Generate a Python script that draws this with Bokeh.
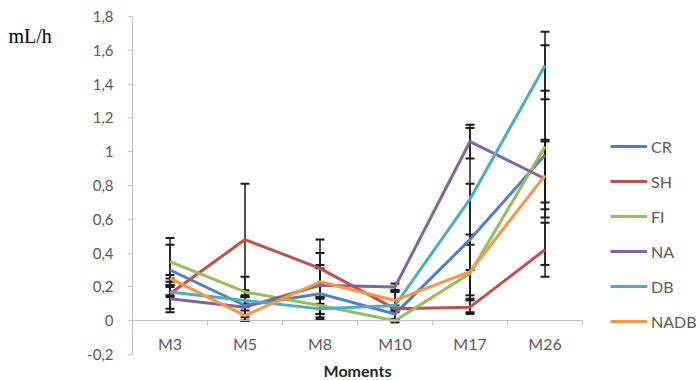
from bokeh.plotting import figure
from bokeh.models import (ColumnDataSource, Whisker, TeeHead, FixedTicker, Legend,
                          LegendItem, Label, Range1d)
from bokeh.embed import file_html
from bokeh.resources import INLINE

# ---- data ----
moments = ["M3", "M5", "M8", "M10", "M17", "M26"]
series_names = ["CR", "SH", "FI", "NA", "DB", "NADB"]

CR = [0.30, 0.09, 0.16, 0.04, 0.48, 0.98]
SH = [0.16, 0.48, 0.31, 0.07, 0.08, 0.42]
FI = [0.35, 0.17, 0.09, 0.00, 0.28, 1.03]
NA = [0.13, 0.08, 0.21, 0.20, 1.06, 0.84]
DB = [0.17, 0.12, 0.07, 0.09, 0.72, 1.51]
NADB = [0.25, 0.03, 0.23, 0.12, 0.29, 0.86]

CR_err = [0.15, 0.09, 0.15, 0.03, 0.33, 0.65]
SH_err = [0.09, 0.33, 0.17, 0.02, 0.04, 0.16]
FI_err = [0.14, 0.09, 0.05, 0.01, 0.23, 0.33]
NA_err = [0.08, 0.06, 0.19, 0.02, 0.10, 0.23]
DB_err = [0.03, 0.02, 0.03, 0.08, 0.42, 0.20]
NADB_err = [0.02, 0.03, 0.10, 0.06, 0.16, 0.20]

y_ticks = [-0.2, 0.0, 0.2, 0.4, 0.6, 0.8, 1.0, 1.2, 1.4, 1.6, 1.8]
y_tick_labels = ["-0,2", "0", "0,2", "0,4", "0,6", "0,8", "1", "1,2", "1,4", "1,6", "1,8"]

colors = ["#4F81BD", "#C0504D", "#9BBB59", "#8064A2", "#4BACC6", "#F79646"]

values = [CR, SH, FI, NA, DB, NADB]
errors = [CR_err, SH_err, FI_err, NA_err, DB_err, NADB_err]

xs = list(range(1, len(moments) + 1))
bounds = [i + 0.5 for i in range(len(moments) + 1)]

# ---- layout (pixels) ----
W, H = 700, 380
AX_LEFT, AX_RIGHT, AX_TOP, AX_BOTTOM = 132, 582, 16, 354

x0, x1 = bounds[0], bounds[-1]
y0, y1 = y_ticks[0], y_ticks[-1]
ppx = (AX_RIGHT - AX_LEFT) / (x1 - x0)
ppy = (AX_BOTTOM - AX_TOP) / (y1 - y0)
x_range = Range1d(x0 - AX_LEFT / ppx, x1 + (W - AX_RIGHT) / ppx)
y_range = Range1d(y0 - (H - AX_BOTTOM) / ppy, y1 + AX_TOP / ppy)

FONT = "Lato"
GRAY = "#595959"
AXIS = "#BFBFBF"

p = figure(width=W, height=H, min_border=0,
           x_range=x_range, y_range=y_range,
           output_backend="svg", toolbar_location=None)
p.outline_line_color = None
p.xgrid.visible = False
p.ygrid.visible = False
p.background_fill_color = "white"
p.border_fill_color = "white"

# y axis at x = 0.5
yax = p.yaxis[0]
yax.fixed_location = x0
yax.bounds = (y0, y1)
yax.ticker = FixedTicker(ticks=y_ticks)
yax.major_label_overrides = dict(zip(y_ticks, y_tick_labels))
yax.axis_line_color = AXIS
yax.major_tick_line_color = AXIS
yax.major_tick_in = 0
yax.major_tick_out = 4
yax.minor_tick_line_color = None
yax.major_label_standoff = 15
yax.major_label_text_font = FONT
yax.major_label_text_font_size = "15px"
yax.major_label_text_color = GRAY

# x axis at y = 0
xax = p.xaxis[0]
xax.fixed_location = 0
xax.bounds = (x0, x1)
xax.ticker = FixedTicker(ticks=xs, minor_ticks=bounds)
xax.major_label_overrides = dict(zip(xs, moments))
xax.axis_line_color = AXIS
xax.major_tick_line_color = None
xax.major_tick_in = 0
xax.major_tick_out = 0
xax.minor_tick_line_color = AXIS
xax.minor_tick_in = 0
xax.minor_tick_out = 5
xax.major_label_standoff = 8
xax.major_label_text_font = FONT
xax.major_label_text_font_size = "16px"
xax.major_label_text_color = GRAY
xax.axis_label = "Moments"
xax.axis_label_text_font = FONT
xax.axis_label_text_font_size = "16px"
xax.axis_label_text_font_style = "bold"
xax.axis_label_text_color = "#262626"
xax.axis_label_standoff = 5

for vals, errs in zip(values, errors):
    src = ColumnDataSource(dict(
        x=xs, y=vals,
        upper=[v + e for v, e in zip(vals, errs)],
        lower=[v - e for v, e in zip(vals, errs)]))
    w = Whisker(base="x", upper="upper", lower="lower", source=src,
                line_color="#1a1a1a", line_width=1.5, level="underlay",
                upper_head=TeeHead(size=9, line_color="#1a1a1a", line_width=2),
                lower_head=TeeHead(size=9, line_color="#1a1a1a", line_width=2))
    p.add_layout(w)

items = []
for name, vals, col in zip(series_names, values, colors):
    src = ColumnDataSource(dict(x=xs, y=vals))
    r = p.line("x", "y", source=src, line_color=col, line_width=3)
    items.append(LegendItem(label=name, renderers=[r]))

legend = Legend(items=items, location=(610, H - 331),
                glyph_width=37, glyph_height=20, label_height=20,
                label_standoff=4, spacing=15, padding=0, margin=0,
                border_line_color=None, background_fill_alpha=0,
                label_text_font=FONT, label_text_font_size="16px",
                label_text_color=GRAY)
p.add_layout(legend)

unit = Label(x=8, y=H - 35, x_units="screen", y_units="screen", text="mL/h",
             text_font="Liberation Serif", text_font_size="20px",
             text_color="black", text_baseline="middle")
p.add_layout(unit)

open("out.html", "w").write(file_html(p, INLINE))
